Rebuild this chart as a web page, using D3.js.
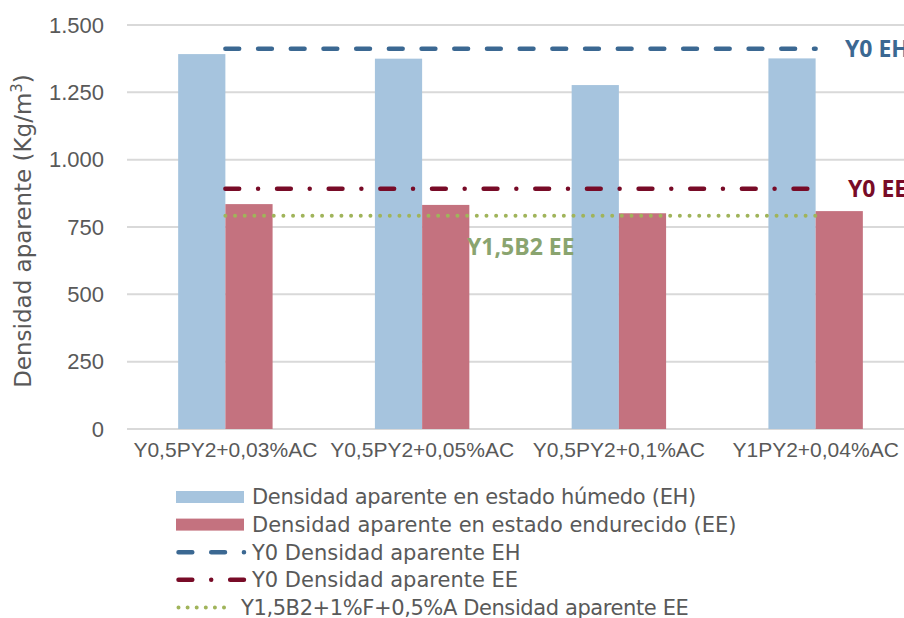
<!DOCTYPE html>
<html>
<head>
<meta charset="utf-8">
<script src="https://cdn.jsdelivr.net/npm/d3@7"></script>
<style>
  html, body { margin: 0; padding: 0; background: #fff; }
  svg { display: block; }
</style>
</head>
<body>
<svg id="chart" width="904" height="618"></svg>
<script>
// Mezclas ensayadas
const categories = ["Y0,5PY2+0,03%AC", "Y0,5PY2+0,05%AC", "Y0,5PY2+0,1%AC", "Y1PY2+0,04%AC"];
// Densidad aparente (kg/m3)
const densidadHumedo = [1392, 1375, 1277, 1376];
const densidadEndurecido = [835, 832, 801, 809];
// Valores de referencia
const refY0EH = [1412, 1412, 1412, 1412];
const refY0EE = [892, 892, 892, 892];
const refY15B2EE = [792, 792, 792, 792];
const yTicks = [0, 250, 500, 750, 1000, 1250, 1500];

const legendLabels = [
  "Densidad aparente en estado húmedo (EH)",
  "Densidad aparente en estado endurecido (EE)",
  "Y0 Densidad aparente EH",
  "Y0 Densidad aparente EE",
  "Y1,5B2+1%F+0,5%A Densidad aparente EE"
];
const lineTags = ["Y0 EH", "Y0 EE", "Y1,5B2 EE"];

const svg = d3.select("#chart");
const plot = { left: 127, right: 914, top: 25, bottom: 429 };

const esLocale = d3.formatLocale({ decimal: ",", thousands: ".", grouping: [3], currency: ["", ""] });
const fmt = esLocale.format(",");

const y = d3.scaleLinear().domain([0, 1500]).range([plot.bottom, plot.top]);
const x = d3.scaleBand().domain(categories).range([plot.left, plot.right])
  .paddingInner(0.52).paddingOuter(0.26);
const xSub = d3.scaleBand().domain(["EH", "EE"]).range([0, x.bandwidth()]);

const colors = {
  EH: "#a6c4de", EE: "#c4727f",
  lineEH: "#3b6892", lineEE: "#780b27", lineB2: "#a0b45a",
  tagB2: "#8aa46f", text: "#595959", grid: "#d9d9d9"
};

// Líneas de cuadrícula
svg.append("g")
  .selectAll("line").data(yTicks).join("line")
  .attr("x1", plot.left).attr("x2", plot.right)
  .attr("y1", d => y(d)).attr("y2", d => y(d))
  .attr("stroke", colors.grid).attr("stroke-width", 2);

// Etiquetas del eje Y
const yAxis = d3.axisLeft(y).tickValues(yTicks).tickFormat(fmt).tickSize(0).tickPadding(0);
const gy = svg.append("g").attr("transform", `translate(104,0)`).call(yAxis);
gy.select(".domain").remove();
gy.selectAll("text")
  .attr("fill", colors.text)
  .style("font-family", "'Liberation Sans', Arial, sans-serif")
  .style("font-size", "22px");

// Etiquetas del eje X
const xAxis = d3.axisBottom(x).tickSize(0).tickPadding(0);
const gx = svg.append("g").attr("transform", `translate(0,${plot.bottom})`).call(xAxis);
gx.select(".domain").remove();
gx.selectAll("text")
  .attr("y", 28).attr("dy", "0")
  .attr("fill", colors.text)
  .style("font-family", "'Liberation Sans', Arial, sans-serif")
  .style("font-size", "21px");

// Barras
const series = [
  { key: "EH", values: densidadHumedo },
  { key: "EE", values: densidadEndurecido }
];
series.forEach(s => {
  svg.append("g").selectAll("rect").data(categories).join("rect")
    .attr("x", (c) => x(c) + xSub(s.key))
    .attr("width", xSub.bandwidth())
    .attr("y", (c, i) => y(s.values[i]))
    .attr("height", (c, i) => y(0) - y(s.values[i]))
    .attr("fill", colors[s.key]);
});

// Líneas de referencia
const lineGen = d3.line()
  .x((d, i) => x(categories[i]) + x.bandwidth() / 2)
  .y(d => y(d));
const refLines = [
  { values: refY0EH, color: colors.lineEH, dash: "13.8,18.9", width: 4.5 },
  { values: refY0EE, color: colors.lineEE, dash: "13.8,18.9,0,18.95", width: 4.5 },
  { values: refY15B2EE, color: colors.lineB2, dash: "0,9.67", width: 4 }
];
refLines.forEach(l => {
  svg.append("path").datum(l.values)
    .attr("d", lineGen)
    .attr("fill", "none")
    .attr("stroke", l.color)
    .attr("stroke-width", l.width)
    .attr("stroke-linecap", "round")
    .attr("stroke-dasharray", l.dash);
});

// Rótulos de las líneas
const tagStyle = sel => sel
  .style("font-family", "'Open Sans', 'Noto Sans', sans-serif")
  .style("font-weight", "bold")
  .style("font-size", "23px")
  .attr("dy", "0.35em");
svg.append("text").text(lineTags[0]).attr("x", 845).attr("y", y(refY0EH[3]))
  .attr("fill", colors.lineEH).call(tagStyle);
svg.append("text").text(lineTags[1]).attr("x", 848).attr("y", y(refY0EE[3]))
  .attr("fill", colors.lineEE).call(tagStyle);
svg.append("text").text(lineTags[2]).attr("x", 467).attr("y", 247)
  .attr("fill", colors.tagB2).call(tagStyle);

// Título del eje Y
const yTitle = svg.append("text")
  .attr("transform", `translate(23,${(plot.top + plot.bottom) / 2 + 4}) rotate(-90)`)
  .attr("text-anchor", "middle")
  .attr("dy", "0.35em")
  .attr("fill", colors.text)
  .style("font-family", "'DejaVu Sans', sans-serif")
  .style("font-size", "23px");
yTitle.append("tspan").text("Densidad aparente (Kg/m");
yTitle.append("tspan").text("3").attr("baseline-shift", "super").style("font-size", "15px");
yTitle.append("tspan").text(")");

// Leyenda
const legend = svg.append("g");
const rowY = i => 497 + i * 27.6;
const legendKinds = [
  { type: "rect", color: colors.EH, x2: 244, tx: 252, ls: -0.3 },
  { type: "rect", color: colors.EE, x2: 244, tx: 252, ls: 0 },
  { type: "line", color: colors.lineEH, dash: "13.8,18.9", width: 4.5, x2: 244, tx: 252, ls: 0 },
  { type: "line", color: colors.lineEE, dash: "13.8,18.9,0,18.95", width: 4.5, x2: 244, tx: 252, ls: 0 },
  { type: "line", color: colors.lineB2, dash: "0,9.1", width: 4, x2: 233, tx: 241, ls: -0.4 }
];
legendKinds.forEach((k, i) => {
  const cy = rowY(i);
  if (k.type === "rect") {
    legend.append("rect").attr("x", 176).attr("y", cy - 6).attr("width", k.x2 - 176).attr("height", 12)
      .attr("fill", k.color);
  } else {
    legend.append("line").attr("x1", 178.5).attr("x2", k.x2).attr("y1", cy).attr("y2", cy)
      .attr("stroke", k.color).attr("stroke-width", k.width)
      .attr("stroke-linecap", "round").attr("stroke-dasharray", k.dash);
  }
  legend.append("text").text(legendLabels[i])
    .attr("x", k.tx).attr("y", cy).attr("dy", "0.35em")
    .attr("fill", colors.text)
    .style("font-family", "'DejaVu Sans', sans-serif")
    .style("font-size", "21px")
    .style("letter-spacing", k.ls + "px");
});
</script>
</body>
</html>
